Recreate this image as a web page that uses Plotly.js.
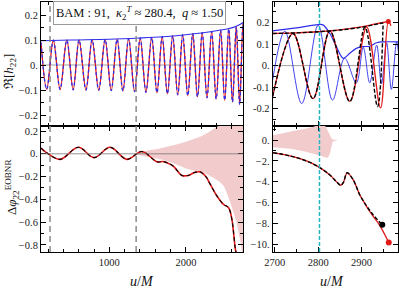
<!DOCTYPE html>
<html><head><meta charset="utf-8">
<script src="https://cdn.plot.ly/plotly-3.0.1.min.js"></script>
<style>html,body{margin:0;padding:0;background:#fff}#chart{width:399px;height:288px}</style>
</head><body><div id="chart"></div>
<script>
// ---------- Left top: Re[h22] (extrema) ----------
const leftWaveU = [108,183,269,357,445,528,605,695,775,862,945,1025,1102,1177,1252,1330,1403,1478,1553,1622,1690,1758,1827,1893,1958,2024,2089,2151,2213,2275,2336,2395,2453,2506,2559,2608,2657,2701,2745,2785];
const leftWaveV = [0.09,-0.097,0.099,-0.098,0.1,-0.099,0.1,-0.1,0.101,-0.101,0.102,-0.102,0.103,-0.104,0.105,-0.106,0.108,-0.109,0.11,-0.111,0.113,-0.115,0.117,-0.119,0.121,-0.123,0.125,-0.127,0.129,-0.131,0.134,-0.136,0.139,-0.141,0.145,-0.148,0.153,-0.158,0.168,-0.17];
const leftEnvU = [108,500,1000,1400,1700,2000,2200,2400,2550,2650,2750];
const leftEnvV = [0.097,0.1,0.103,0.108,0.113,0.121,0.128,0.137,0.145,0.154,0.17];

// ---------- Left bottom: phase difference ----------
const leftPhaseU = [108,170,357,596,801,1010,1229,1425,1621,1700,1760,1838,1948,2030,2110,2180,2260,2317,2405,2491,2557,2601,2622,2644,2665];
const leftPhaseV = [0.05,0.015,-0.049,0.057,-0.034,0.057,-0.049,0.02,-0.07,-0.068,-0.08,-0.11,-0.19,-0.19,-0.165,-0.158,-0.2,-0.267,-0.37,-0.444,-0.474,-0.578,-0.693,-0.83,-0.9];
const leftBandU = [1320,1450,1550,1650,1800,1968,2056,2187,2274,2405,2491,2601,2666,2709,2732,2760];
const leftBandHi = [0,0.02,0.035,0.045,0.07,0.1,0.12,0.15,0.18,0.237,0.27,0.35,0.42,0.48,0.5,0.5];
const leftBandLo = [0,-0.02,-0.035,-0.045,-0.075,-0.12,-0.14,-0.16,-0.18,-0.23,-0.28,-0.47,-0.62,-0.76,-0.86,-0.95];

// ---------- Right top ----------
const rNRU = [2695,2742,2788,2827,2873,2912,2944,2962,2968];
const rNRV = [-0.143,0.149,-0.153,0.161,-0.166,0.18,-0.196,0.205,0.185];
const rEOBU = [2695,2742,2788,2827,2873,2908,2937,2950];
const rEOBV = [-0.143,0.149,-0.153,0.161,-0.166,0.178,-0.19,0.198];
const rNREnvU = [2695,2750,2800,2850,2900,2930,2950,2962];
const rNREnvV = [0.149,0.152,0.157,0.166,0.18,0.192,0.2,0.205];
const rEOBEnvU = [2695,2750,2800,2850,2900,2930,2950];
const rEOBEnvV = [0.149,0.152,0.157,0.165,0.178,0.19,0.198];
const rBlueU = [2695,2723,2762,2800,2833,2861,2888,2904,2919,2935,2946,2958,2969,2981,2986];
const rBlueV = [-0.066,0.16,-0.176,0.188,-0.16,0.034,-0.08,0.085,-0.08,0.095,-0.085,0.105,-0.11,0.11,0.05];
const rBlueEnvU = [2695,2750,2800,2811,2827,2842,2858,2873,2888,2904,2919,2935,2950,2986];
const rBlueEnvV = [0.161,0.175,0.19,0.189,0.149,0.088,0.034,0.057,0.08,0.088,0.09,0.106,0.11,0.11];

// ---------- Right bottom ----------
const rPhNRU = [2696,2735,2773,2800,2827,2842,2852,2858,2867,2881,2896,2912,2927,2942,2963];
const rPhNRV = [-1.22,-1.53,-2.01,-2.56,-3.36,-4.0,-4.35,-4.1,-3.15,-3.84,-5.27,-6.4,-7.35,-8.2,-9.85];
const rPhEOBU = [2696,2735,2773,2800,2827,2842,2852,2858,2867,2881,2896,2912,2927,2948];
const rPhEOBV = [-1.22,-1.53,-2.01,-2.56,-3.36,-4.0,-4.35,-4.1,-3.15,-3.84,-5.27,-6.35,-7.2,-8.15];
const rBandU = [2695,2735,2773,2800,2815,2822,2827,2831,2834,2843,2845];
const rBandHi = [0.45,0.8,1.1,1.4,1.4,0.9,0.48,0.16,0.05,0.02,0];
const rBandLo = [-0.7,-0.85,-1.15,-1.45,-1.65,-1.7,-1.3,-0.6,-0.15,-0.02,0];

// ---------- markers / ticks ----------
const grayVlines = [226, 1350];
const cyanVline = [2803];
const ltTickV = [-0.2,-0.1,0,0.1,0.2], ltTickT = ['−0.2','−0.1','0.','0.1','0.2'];
const lbTickV = [-0.8,-0.6,-0.4,-0.2,0,0.2], lbTickT = ['−0.8','−0.6','−0.4','−0.2','0.','0.2'];
const rtTickV = [-0.2,-0.1,0,0.1,0.2], rtTickT = ['-0.2','-0.1','0.','0.1','0.2'];
const rbTickV = [-10,-8,-6,-4,-2,0], rbTickT = ['−10.','−8.','−6.','−4.','−2.','0.'];
const lxTickV = [1000,2000], lxTickT = ['1000','2000'];
const rxTickV = [2700,2800,2900], rxTickT = ['2700','2800','2900'];

const RED = 'rgb(225,25,25)', BLUE = 'rgb(45,45,235)', PINK = 'rgb(242,203,204)';
const sp = {shape:'spline', smoothing:1};

function band(u, hi, lo, xa, ya){
  return {x: u.concat(u.slice().reverse()), y: hi.concat(lo.slice().reverse()), xaxis:xa, yaxis:ya,
    fill:'toself', fillcolor:PINK, line:{width:0, shape:'spline', smoothing:0.6}, mode:'lines', hoverinfo:'skip'};
}

const traces = [
  // left top
  {x:leftWaveU, y:leftWaveV, xaxis:'x', yaxis:'y', mode:'lines', line:Object.assign({color:RED, width:1.3}, sp)},
  {x:leftWaveU, y:leftWaveV, xaxis:'x', yaxis:'y', mode:'lines', line:Object.assign({color:BLUE, width:1.3, dash:'dot'}, sp)},
  {x:leftEnvU, y:leftEnvV, xaxis:'x', yaxis:'y', mode:'lines', line:Object.assign({color:BLUE, width:1.1}, sp)},
  // left bottom
  band(leftBandU, leftBandHi, leftBandLo, 'x3', 'y3'),
  {x:leftPhaseU, y:leftPhaseV, xaxis:'x3', yaxis:'y3', mode:'lines', line:Object.assign({color:RED, width:1.6}, sp)},
  {x:leftPhaseU, y:leftPhaseV, xaxis:'x3', yaxis:'y3', mode:'lines', line:Object.assign({color:'black', width:1.1, dash:'4px,3px'}, sp)},
  // right top
  {x:rBlueU, y:rBlueV, xaxis:'x2', yaxis:'y2', mode:'lines', line:Object.assign({color:BLUE, width:0.9}, sp)},
  {x:rBlueEnvU, y:rBlueEnvV, xaxis:'x2', yaxis:'y2', mode:'lines', line:Object.assign({color:BLUE, width:1.2}, sp)},
  {x:rNRU, y:rNRV, xaxis:'x2', yaxis:'y2', mode:'lines', line:Object.assign({color:RED, width:1.3}, sp)},
  {x:rNREnvU, y:rNREnvV, xaxis:'x2', yaxis:'y2', mode:'lines', line:Object.assign({color:RED, width:1.3}, sp)},
  {x:rEOBU, y:rEOBV, xaxis:'x2', yaxis:'y2', mode:'lines', line:Object.assign({color:'black', width:1.4, dash:'4px,2px'}, sp)},
  {x:rEOBEnvU, y:rEOBEnvV, xaxis:'x2', yaxis:'y2', mode:'lines', line:Object.assign({color:'black', width:1.4, dash:'4px,2px'}, sp)},
  {x:[rNREnvU[rNREnvU.length-1]], y:[rNREnvV[rNREnvV.length-1]], xaxis:'x2', yaxis:'y2', mode:'markers', marker:{color:RED, size:5}},
  // right bottom
  band(rBandU, rBandHi, rBandLo, 'x4', 'y4'),
  {x:rPhNRU, y:rPhNRV, xaxis:'x4', yaxis:'y4', mode:'lines', line:Object.assign({color:RED, width:1.3}, sp)},
  {x:rPhEOBU, y:rPhEOBV, xaxis:'x4', yaxis:'y4', mode:'lines', line:Object.assign({color:'black', width:1.4, dash:'4px,2px'}, sp)},
  {x:[rPhEOBU[rPhEOBU.length-1]], y:[rPhEOBV[rPhEOBV.length-1]], xaxis:'x4', yaxis:'y4', mode:'markers', marker:{color:'black', size:6}},
  {x:[rPhNRU[rPhNRU.length-1]], y:[rPhNRV[rPhNRV.length-1]], xaxis:'x4', yaxis:'y4', mode:'markers', marker:{color:RED, size:6}}
];

const W = 399, H = 288;
const LX = [41/W, 243.3/W], RX = [272.7/W, 398.3/W];
const TY = [1-126/H, 1-2/H], BY = [1-252/H, 1-126/H];
const tickFont = {family:'Liberation Serif, DejaVu Serif, serif', size:10.5, color:'#222'};

function ax(extra){
  return Object.assign({showline:true, linecolor:'black', linewidth:1, mirror:'allticks', ticks:'inside', ticklen:5,
    tickcolor:'black', tickwidth:1, showgrid:false, zeroline:false, tickfont:tickFont, tickmode:'array'}, extra);
}
function minorVals(a, b, step, skip){
  const out = [];
  for (let v = a; v <= b + 1e-9; v += step) { const r = Math.round(v*1000)/1000; if (!skip.some(s => Math.abs(s-r) < 1e-6)) out.push(r); }
  return out;
}

const layout = {
  width:W, height:H, margin:{l:0,r:0,t:0,b:0}, showlegend:false,
  paper_bgcolor:'white', plot_bgcolor:'white',
  xaxis: ax({domain:LX, anchor:'y', range:[108,2749], tickvals:lxTickV, ticktext:lxTickT, showticklabels:false,
    minor:{tickvals:minorVals(200,2600,200,lxTickV), ticklen:3, ticks:'inside', tickcolor:'black'}}),
  yaxis: ax({domain:TY, anchor:'x', range:[-0.244,0.252], tickvals:ltTickV, ticktext:ltTickT,
    minor:{tickvals:minorVals(-0.25,0.25,0.05,ltTickV), ticklen:3, ticks:'inside', tickcolor:'black'}}),
  xaxis2: ax({domain:RX, anchor:'y2', range:[2695,2985], tickvals:rxTickV, ticktext:rxTickT, showticklabels:false,
    minor:{tickvals:[2750,2850,2950], ticklen:3, ticks:'inside', tickcolor:'black'}}),
  yaxis2: ax({domain:TY, anchor:'x2', range:[-0.28,0.295], tickvals:rtTickV, ticktext:rtTickT,
    minor:{tickvals:minorVals(-0.25,0.25,0.05,rtTickV), ticklen:3, ticks:'inside', tickcolor:'black'}}),
  xaxis3: ax({domain:LX, anchor:'y3', range:[108,2749], tickvals:lxTickV, ticktext:lxTickT,
    minor:{tickvals:minorVals(200,2600,200,lxTickV), ticklen:3, ticks:'inside', tickcolor:'black'}}),
  yaxis3: ax({domain:BY, anchor:'x3', range:[-0.862,0.244], tickvals:lbTickV, ticktext:lbTickT,
    minor:{tickvals:minorVals(-0.9,0.2,0.1,lbTickV), ticklen:3, ticks:'inside', tickcolor:'black'}}),
  xaxis4: ax({domain:RX, anchor:'y4', range:[2695,2985], tickvals:rxTickV, ticktext:rxTickT,
    minor:{tickvals:[2750,2850,2950], ticklen:3, ticks:'inside', tickcolor:'black'}}),
  yaxis4: ax({domain:BY, anchor:'x4', range:[-10.77,1.35], tickvals:rbTickV, ticktext:rbTickT,
    minor:{tickvals:minorVals(-11,1,1,rbTickV), ticklen:3, ticks:'inside', tickcolor:'black'}}),
  shapes: [
    ...grayVlines.map(v => ({type:'line', xref:'x', yref:'paper', x0:v, x1:v, y0:BY[0], y1:TY[1], line:{color:'#8a8a8a', width:1.5, dash:'6px,4px'}})),
    ...cyanVline.map(v => ({type:'line', xref:'x2', yref:'paper', x0:v, x1:v, y0:BY[0], y1:TY[1], line:{color:'#27b5c0', width:1.5, dash:'4px,2px'}})),
    {type:'line', xref:'x domain', yref:'y', x0:0, x1:1, y0:0, y1:0, line:{color:'#888', width:0.8}, layer:'below'},
    {type:'line', xref:'x3 domain', yref:'y3', x0:0, x1:1, y0:0, y1:0, line:{color:'#777', width:0.8}, layer:'above'},
    {type:'line', xref:'x2 domain', yref:'y2', x0:0, x1:1, y0:0, y1:0, line:{color:'#888', width:0.8}, layer:'below'}
  ],
  annotations: [
    {xref:'paper', yref:'paper', x:139.5/W, y:1-12.5/H, xanchor:'center', yanchor:'middle', showarrow:false,
     text:'BAM : 91,  <i>κ</i><sub>2</sub><sup><i>T</i></sup> ≈ 280.4,  <i>q</i> ≈ 1.50',
     font:{family:'Liberation Serif, DejaVu Serif, serif', size:12.5, color:'#111'},
     bgcolor:'white', bordercolor:'#999', borderwidth:1, borderpad:2},
    {xref:'paper', yref:'paper', x:9/W, y:1-72/H, xanchor:'center', yanchor:'middle', showarrow:false, textangle:-90,
     text:'ℜ[<i>h</i><sub>22</sub>]', font:{family:'Liberation Serif, DejaVu Serif, serif', size:13, color:'#111'}},
    {xref:'paper', yref:'paper', x:12/W, y:1-187/H, xanchor:'center', yanchor:'middle', showarrow:false, textangle:-90,
     text:'Δ<i>φ</i><sub>22</sub><sup>EOBNR</sup>', font:{family:'Liberation Serif, DejaVu Serif, serif', size:13, color:'#111'}},
    {xref:'paper', yref:'paper', x:141.7/W, y:1-281/H, xanchor:'center', yanchor:'middle', showarrow:false,
     text:'<i>u</i>/<i>M</i>', font:{family:'Liberation Serif, DejaVu Serif, serif', size:14, color:'#111'}},
    {xref:'paper', yref:'paper', x:331.7/W, y:1-281/H, xanchor:'center', yanchor:'middle', showarrow:false,
     text:'<i>u</i>/<i>M</i>', font:{family:'Liberation Serif, DejaVu Serif, serif', size:14, color:'#111'}}
  ]
};

Plotly.newPlot('chart', traces, layout, {staticPlot:true, displayModeBar:false});
</script></body></html>
